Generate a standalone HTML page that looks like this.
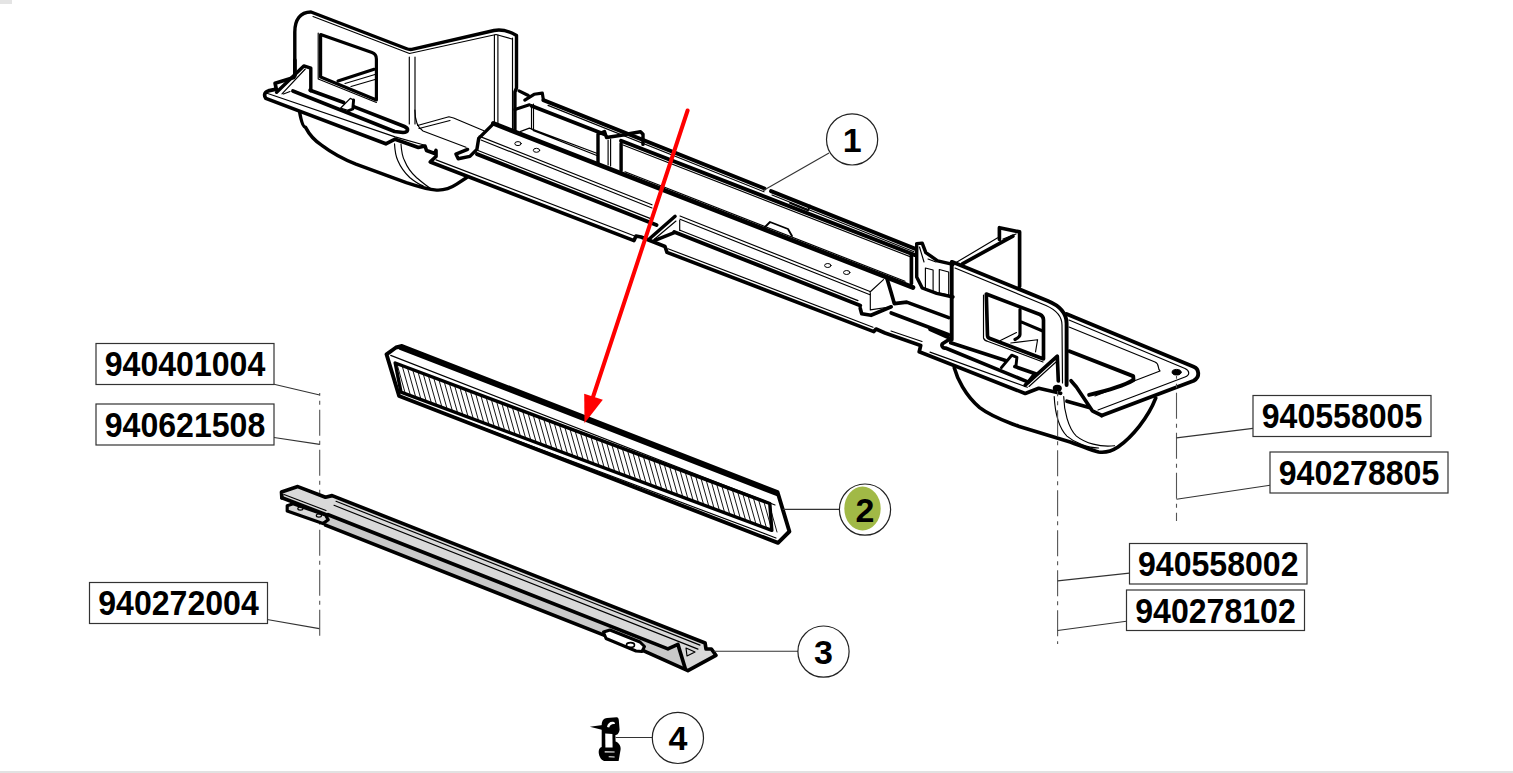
<!DOCTYPE html>
<html><head><meta charset="utf-8">
<style>
html,body{margin:0;padding:0;background:#fff;}
body{width:1513px;height:773px;overflow:hidden;position:relative;}
svg{position:absolute;left:0;top:0;}
.lb{font-family:"Liberation Sans",sans-serif;font-weight:bold;font-size:34.5px;fill:#000;}
.cn{font-family:"Liberation Sans",sans-serif;font-weight:bold;font-size:34px;fill:#000;}
</style></head><body>
<svg width="1513" height="773" viewBox="0 0 1513 773">
<rect x="0" y="771" width="1513" height="2" fill="#e2e2e2"/>
<rect x="0" y="0" width="12" height="4" fill="#e4e4e4"/>
<g fill="none" stroke="#000" stroke-linecap="round" stroke-linejoin="round">
<path d="M294.8,76 L294.8,32 C294.8,20 300,12 311,12 L406,48.5 C408.5,49.5 410.5,49.8 413,49.2 L494,30.5 C502,29 509,31 516.5,35.5 L516.5,88 L514.9,92 L514.9,130.4" stroke-width="3.42"/>
<path d="M313,16.5 L409.5,53.5 L496,34.5 L512,39" stroke-width="1.15"/>
<path d="M320.6,77 L320.6,34.5 L372,52.5 C375,53.5 376.4,55.5 376.4,59 L376.4,100 L320.6,77" stroke-width="3.17"/>
<path d="M318.2,33 L318.2,79 L376.4,102.5" stroke-width="1.15"/>
<path d="M338,81 L374.1,69.3" stroke-width="3.17"/>
<path d="M345,83.5 L375,74.5 M351,86.5 L375,79.5" stroke-width="1.15"/>
<path d="M409.3,57 V124 M415,57 V124 M494.4,35 V123.8 M497.9,35 V123.8 M512.5,38 V130" stroke-width="1.15"/>
<path d="M294.9,60 L294.9,75.1 L293.8,77.5 L275.1,83.3 L276.3,89.1 L268.2,90.9 C264,92 264,96 265.8,98.4 L385.8,143.8 L395.1,139.2 L418.4,147.5 L425,146 L426.5,150.5 L434.7,153.5 L436,150.5 L436,156.5 L431.2,161 L430.3,162.0 L634,240.6 L636,236 L641,237 L665,246.5 L667,252.4 L873.8,331.6 L876,329 L885,333 L920.7,345.6 L919.2,351.8 L1025.2,393.5 L1038.7,388.3 L1060.6,393.3" stroke-width="3.66"/>
<path d="M267,93.2 L395.1,136.9 L424,145 M436.0,159.9 L634.0,235.7 M668.0,248.7 L873.0,327.2  M891,331 L922,341.5 M930,352.1 L1027.3,387.3" stroke-width="1.15"/>
<path d="M276.6,92.2 L303.8,65.9 L310.8,68.2 L310.8,90.7" stroke-width="3.42"/>
<path d="M282,93.8 L305.3,69 M283.5,94 L290,91.5" stroke-width="1.15"/>
<path d="M310.1,90.2 L343.7,102.5 M353.6,106.6 L404.5,126.5 C409,128.5 408.5,132.5 403,132.5 L394.6,131.5 L292.9,91" stroke-width="3.66"/>
<path d="M340.5,108.2 L350.3,98.4 L353.6,100 L352.8,109 L348.7,110.7 Z" fill="#fff" stroke-width="1.3"/>
<path d="M353.6,100 L352.8,109 L348.7,110.7" stroke-width="2.93"/>
<path d="M299.6,112 C301,120 303,127 305.4,127.1 C310,136 315,141 322.2,145.6 C332,153 343,159 355.9,164.1 L406.3,182.6 C418,186.5 428,189.5 436.6,190.1 C445,190.5 451,188 456.7,184.2 L466.8,177.5" stroke-width="3.42"/>
<path d="M394.5,143.9 C395,152 396,157 397.9,160.7 C401,168 405,173 409.7,177.5 C414,181 418,184 423.1,185.9 M401,144 C401.5,152 402.5,157 404.6,160.7 C407.5,168 411.5,173 416.4,177.5 C420.5,181 425,185 430,188" stroke-width="1.15"/>
<path d="M417.5,125.5 L448.9,116.8 L453.6,118 L483.9,130.8 M419,128.5 L450,120.5 M414.9,110 C415,122 418,128 423,131 L466,147.3" stroke-width="1.15"/>
<path d="M478.7,138.4 L493.3,123.9 M478.7,138.4 L476.9,149.4 L469.9,156.4 L458.2,158.7 L455.9,154.1 L467.6,149.4" stroke-width="3.42"/>
<path d="M514.9,109.4 L529.4,104.8 M519,90.8 L528.3,95.5 M524.8,100.1 L534.1,94.3 L542.3,93.1 L543.4,100.1" stroke-width="3.17"/>
<path d="M531.5,105 V129 M533.5,104 V130" stroke-width="1.15"/>
<path d="M520.1,131.6 L529.4,128.1 L598.1,153.7 M533,130.4 L598.1,156" stroke-width="1.15"/>
<path d="M543.4,100.1 L764.5,188.5 M771.0,191.1 L916.0,249.1 " stroke-width="3.9"/>
<path d="M548.0,105.4 L764.0,191.8 M772.0,195.0 L914.0,251.8 " stroke-width="1.15"/>
<path d="M531.8,106.0 L604.3,134.2 M621.1,140.7 L915.0,255.1 " stroke-width="3.9"/>
<path d="M623.0,145.0 L912.0,257.4 " stroke-width="1.15"/>
<path d="M598,163.8 L598,134.3 L604.5,131.5 L606.5,137.5 L623,135 L630.4,133.5 L640.5,131.8 L643,134.3 L643,144.4 M621.1,170.5 L621.1,143.5" stroke-width="3.42"/>
<path d="M608.1,140 V165 M610.6,139 V166" stroke-width="1.15"/>
<path d="M790,203 L808,210.5 L810,205.5" stroke-width="1.84"/>
<path d="M765,227 L770,222 L788,229 L792,236" stroke-width="1.84"/>
<path d="M493.3,123.4 L913.0,287.5 " stroke-width="4.64"/>
<path d="M625.0,171.8 L905.0,281.3 " stroke-width="1.15"/>
<path d="M479.0,136.1 L652.0,204.8 M680.0,216.0 L870.0,291.5 M481.0,140.0 L652.0,208.0 M680.0,219.2 L870.0,294.7 " stroke-width="1.15"/>
<path d="M477.0,154.1 L656.5,225.0 M674.3,232.0 L860.2,305.5 " stroke-width="3.9"/>
<path d="M478.0,150.5 L650.0,218.4 M680.0,230.3 L858.0,300.6 " stroke-width="1.15"/>
<path d="M649.5,238.8 L675.1,216.3 M654.9,240.3 L674.3,232.6" stroke-width="3.42"/>
<path d="M654,239.5 L676,221 M679.7,220.2 L679.7,230.3" stroke-width="1.15"/>
<path d="M886.6,277.3 L891.2,292.8 L894.3,303.6 L906.7,302.1 L948.7,317.6" stroke-width="3.66"/>
<path d="M870,292 L883.5,279.6 M870.3,292.8 L870.3,309.9 L891.2,306.8" stroke-width="1.15"/>
<path d="M860.2,308.3 L861.7,313.7 L871,315.3 L891.2,306.8 M891.2,313 L948.7,334.7" stroke-width="3.66"/>
<ellipse cx="518" cy="143.6" rx="3.2" ry="2" stroke-width="1"/>
<ellipse cx="536.5" cy="150.3" rx="3.2" ry="2" stroke-width="1"/>
<ellipse cx="827.8" cy="265.5" rx="3.2" ry="2" stroke-width="1"/>
<ellipse cx="846.7" cy="272.5" rx="3.2" ry="2" stroke-width="1"/>
<path d="M911.4,255.5 L911.4,283.5" stroke-width="3.66"/>
<path d="M916.7,243.6 L922.2,243.1 L925.8,252.6 L937.6,260.8 L953,264.4 M916.7,243.6 L916.7,277.1 L922.2,288 L936.7,293.4 L953,297" stroke-width="3.42"/>
<path d="M919.5,247 L924,262 M928,259 L936,262" stroke-width="1.15"/>
<path d="M925.4,268 L925.4,290 L933.1,292 L933.1,270 Z M939.3,269.5 L939.3,293 L948.7,295 L948.7,272 Z" stroke-width="1.15"/>
<path d="M951.7,262 L951.7,339.7 M952.5,262 L1048,301 C1059,305.5 1066.6,313 1066.6,323.5 L1066.6,385" stroke-width="3.9"/>
<path d="M955,268 L1046,305.5 C1055,309.5 1062,316 1062,325 L1062.5,383" stroke-width="1.15"/>
<path d="M999.4,239.4 L999.4,227.7 L1019.6,231.9 L1019.6,286.5 M962.4,263.8 L1012.9,236.1" stroke-width="3.66"/>
<path d="M954,263.8 L997.7,237.8 M1003,239 L1016,234" stroke-width="1.15"/>
<path d="M986.3,294 L1040,314.5 C1042,315.5 1043.5,317 1043.5,320 L1043.5,359 L990,338.5 C988.5,338 987.5,337 987.5,335.5 Z" stroke-width="3.66"/>
<path d="M983.5,295 L983.5,338 C984,340 986,341 988,341.5 L1043,362 M1000.4,340.5 L1016.5,332.5 M1010.8,343 L1037.6,339.7 L1035.5,352" stroke-width="1.15"/>
<path d="M1021.2,321.9 L1043.3,331.2 M1020,309.5 L1020,334.5 C1020,336.5 1018,338 1015,339.5" stroke-width="3.17"/>
<path d="M930,329.3 L948.6,337.6" stroke-width="3.66"/>
<path d="M950.7,338.5 L942.4,343.8 C941,346 943,348.5 945.5,348 L1028.3,382.1 L1033,376 M950.7,342.8 L1005.5,360.4 M1014.9,366.6 L1035.5,373.8" stroke-width="3.66"/>
<path d="M960,346 L1005,361" stroke-width="1.15"/>
<path d="M1001.4,367.6 L1011.7,355.2 L1016.9,357.3 L1015.9,366.6" stroke-width="2.93"/>
<path d="M1025.2,385.2 L1057.3,356.2 L1058.3,381" stroke-width="3.66"/>
<path d="M1029,386.5 L1056,362" stroke-width="1.15"/>
<path d="M1066.6,314 L1193.7,366.8 C1199,369 1200.5,377 1193.7,380.7 L1101.8,415.5" stroke-width="3.9"/>
<path d="M1069,320 L1185,368.5 C1190,371 1190,375 1185,377 L1098,410 M1069,327 L1155,362 C1160,364 1157,368 1160,371 L1095,396" stroke-width="1.15"/>
<path d="M1069.5,351.2 L1133.2,376.1 L1133.5,380 C1125,385 1110,390 1089.1,394.9" stroke-width="3.9"/>
<ellipse cx="1176.6" cy="372.2" rx="4.5" ry="2.8" fill="#000" stroke-width="1"/>
<ellipse cx="1057.3" cy="388.3" rx="3.8" ry="2.8" fill="#000" stroke-width="1.5"/>
<path d="M1066.9,401.2 L1089.1,407.6 M1071,380.7 L1076.4,387 L1092.3,410.8 L1101.8,415.5" stroke-width="3.66"/>
<path d="M954.3,367.9 C957,378 965,395 979.7,407.6 C992,417 1005,421 1019.3,426.6 L1066.9,440.9 C1080,445 1090,450 1098.6,452 C1106,453 1112,451 1118,447 C1132,437 1148,418 1155.7,398.1" stroke-width="3.66"/>
<path d="M1054.2,396.5 C1055,412 1059,428 1066.9,436.1 C1075,443 1088,448 1098.6,448 M1063.7,396.5 C1064,410 1068,428 1076.4,436.1 C1085,443 1100,447.5 1114.5,445.7" stroke-width="1.15"/>

</g>
<g stroke="#555" stroke-width="1.1" fill="none">
<line x1="319.7" y1="393" x2="319.7" y2="638" stroke-dasharray="26,5,4,5" stroke-dashoffset="23.2"/>
<line x1="1176.5" y1="376" x2="1176.5" y2="521" stroke-dasharray="26,5,4,5" stroke-dashoffset="23.2"/>
<line x1="1057.6" y1="391" x2="1057.6" y2="644" stroke-dasharray="26,5,4,5" stroke-dashoffset="20.7"/>

</g>
<g fill="none" stroke="#000" stroke-linecap="round" stroke-linejoin="round">
<path d="M386.5,354.3 L399.1,396 L778,542.9 L789.4,531.5 L777.5,492 L402,346 L396,347.5 Z" stroke-width="3.9"/>
<path d="M400,348.2 L777,494.5" stroke-width="3.17"/>
<path d="M390.7,355.4 L775,505" stroke-width="1.15"/>
<path d="M395.2,363 L769.8,503.5 L771.8,530.4 L401,392.1 Z" stroke-width="3.42"/>
<path d="M399,396 L776,538" stroke-width="1.15"/>
<path d="M397.0,364.0 L405.0,392.5 M402.2,366.0 L410.2,394.5 M407.5,367.9 L415.5,396.4 M412.7,369.9 L420.7,398.4 M418.0,371.9 L426.0,400.4 M423.2,373.8 L431.2,402.3 M428.4,375.8 L436.4,404.3 M433.7,377.8 L441.7,406.3 M438.9,379.7 L446.9,408.2 M444.2,381.7 L452.2,410.2 M449.4,383.6 L457.4,412.1 M454.6,385.6 L462.6,414.1 M459.9,387.6 L467.9,416.1 M465.1,389.5 L473.1,418.0 M470.4,391.5 L478.4,420.0 M475.6,393.5 L483.6,422.0 M480.8,395.4 L488.8,423.9 M486.1,397.4 L494.1,425.9 M491.3,399.4 L499.3,427.9 M496.5,401.3 L504.5,429.8 M501.8,403.3 L509.8,431.8 M507.0,405.3 L515.0,433.8 M512.3,407.2 L520.3,435.7 M517.5,409.2 L525.5,437.7 M522.7,411.2 L530.7,439.7 M528.0,413.1 L536.0,441.6 M533.2,415.1 L541.2,443.6 M538.5,417.0 L546.5,445.5 M543.7,419.0 L551.7,447.5 M548.9,421.0 L556.9,449.5 M554.2,422.9 L562.2,451.4 M559.4,424.9 L567.4,453.4 M564.7,426.9 L572.7,455.4 M569.9,428.8 L577.9,457.3 M575.1,430.8 L583.1,459.3 M580.4,432.8 L588.4,461.3 M585.6,434.7 L593.6,463.2 M590.9,436.7 L598.9,465.2 M596.1,438.7 L604.1,467.2 M601.3,440.6 L609.3,469.1 M606.6,442.6 L614.6,471.1 M611.8,444.6 L619.8,473.1 M617.1,446.5 L625.1,475.0 M622.3,448.5 L630.3,477.0 M627.5,450.5 L635.5,479.0 M632.8,452.4 L640.8,480.9 M638.0,454.4 L646.0,482.9 M643.3,456.3 L651.3,484.8 M648.5,458.3 L656.5,486.8 M653.7,460.3 L661.7,488.8 M659.0,462.2 L667.0,490.7 M664.2,464.2 L672.2,492.7 M669.5,466.2 L677.5,494.7 M674.7,468.1 L682.7,496.6 M679.9,470.1 L687.9,498.6 M685.2,472.1 L693.2,500.6 M690.4,474.0 L698.4,502.5 M695.6,476.0 L703.6,504.5 M700.9,478.0 L708.9,506.5 M706.1,479.9 L714.1,508.4 M711.4,481.9 L719.4,510.4 M716.6,483.9 L724.6,512.4 M721.8,485.8 L729.8,514.3 M727.1,487.8 L735.1,516.3 M732.3,489.7 L740.3,518.2 M737.6,491.7 L745.6,520.2 M742.8,493.7 L750.8,522.2 M748.0,495.6 L756.0,524.1 M753.3,497.6 L761.3,526.1 M758.5,499.6 L766.5,528.1 M763.8,501.5 L771.8,530.0 M769.0,503.5 L777.0,532.0 " stroke-width="0.92"/>

<path d="M297.8,486.6 L325.5,497.2 L332.1,495.6 L705.1,643 L706,648.9 L711.4,649 L715.9,655.3 L687.9,670.7 L677.9,644.4 L667.9,648.9 L328.2,514.7 L325.5,514.4 L281.9,497.8 L281.5,492 Z" fill="#d9d9d9" stroke="none"/>
<path d="M328.2,514.7 L667.9,648.9 L677.9,644.4 L687.9,670.7 L604.0,635.1 L325.5,525.1 Z" fill="#c9c9c9" stroke="none"/>
<path d="M287.2,505.8 L293.1,503.8 L325.5,515 L328.2,519.7 L322.9,523.6 L287.2,511.1 Z" fill="#d9d9d9" stroke="none"/>
<path d="M281.9,497.8 L281.5,492 L297.8,486.6 L325.5,497.2 L332.1,495.6 L705.1,643 L706,648.9 L711.4,649 L715.9,655.3 L687.9,670.7 L641.0,649.7" stroke-width="3.66"/>
<path d="M281.9,497.8 L325.5,514.4 M325.5,525.1 L604.0,635.1" stroke-width="3.66"/>
<path d="M328.2,514.7 L667.9,648.9 L677.9,644.4 L685.1,668" stroke-width="3.66"/>
<path d="M336.0,501.3 L700.0,645.1 M334.0,505.3 L698.0,649.1 M284,494.5 L326,510.5" stroke-width="1.15"/>
<path d="M287.2,505.8 L293.1,503.8 L325.5,515 L328.2,519.7 L322.9,523.6 L287.2,511.1 Z" stroke-width="3.17"/>
<ellipse cx="300.4" cy="508.6" rx="2.6" ry="1.6" stroke-width="1.2"/>
<ellipse cx="318.9" cy="515.6" rx="2.6" ry="1.6" stroke-width="1.2"/>
<path d="M603.5,632 L610,630 L640,642 L644.5,646.5 L642,651.5 L636,651 L606,638.5 Z" fill="#fff" stroke-width="3.0"/>
<ellipse cx="630.5" cy="645" rx="4" ry="2.4" stroke-width="1.6"/>
<path d="M686,648 L695,652 L687,656 Z" stroke-width="1.15"/>

</g>
<path d="M601.7,747 L601.7,724.5 C602,720 604,718.5 607,718 L616.6,717.3 C618,717.5 618.6,718.5 618.8,720 L619.6,729.7 C619.3,732 618,734.5 616.6,734.7 L615.4,735 L615.6,741.6 C619,743 621,746 620.6,749.6 L618.6,761 L604,761 C600.5,760 598.5,755 598.7,751.6 C598.8,749 600,747.5 601.7,747 Z" fill="#000"/>
<path d="M605.2,733.5 L612.4,734 L612.6,747.6 L605.4,747.6 Z" fill="#fff"/>
<path d="M589.8,726.8 L602.7,725 L602.7,729.9 Z" fill="#000"/>
<path d="M607,727 C607.5,723.5 610,721.5 613,721.8 C614.5,722 615.2,723 614.8,724 C612,723.5 610,725 609.2,727.5 Z" fill="#fff"/>
<path d="M604.7,751.3 L614.6,751.6 L614.6,752.6 L604.7,752.4 Z M608.7,756.3 L614.6,756.6 L614.6,757.4 L608.7,757.2 Z" fill="#fff"/>

<g stroke="#333" stroke-width="1.1" fill="none">
<line x1="274" y1="384.3" x2="319.7" y2="395"/>
<line x1="274" y1="437.5" x2="319.7" y2="444.4"/>
<line x1="267.1" y1="619.5" x2="319.3" y2="628.6"/>
<line x1="1176.5" y1="437.9" x2="1252.9" y2="428.4"/>
<line x1="1176.5" y1="499.3" x2="1270" y2="485.3"/>
<line x1="1057.6" y1="580.9" x2="1129.4" y2="573.1"/>
<line x1="1057.6" y1="630.5" x2="1126.4" y2="621.2"/>
<line x1="829" y1="153" x2="763.3" y2="190.6"/>
<line x1="782.7" y1="509.4" x2="839.2" y2="509.4"/>
<line x1="713.9" y1="651.3" x2="798" y2="651.3"/>
<line x1="615.6" y1="737.5" x2="652.1" y2="737.5"/>

</g>
<rect x="96" y="343.5" width="178" height="41" fill="#fff" stroke="#333" stroke-width="1.2"/>
<text x="185.0" y="376.1" text-anchor="middle" class="lb" textLength="160.5" lengthAdjust="spacingAndGlyphs">940401004</text>
<rect x="96" y="404" width="178" height="41" fill="#fff" stroke="#333" stroke-width="1.2"/>
<text x="185.0" y="436.6" text-anchor="middle" class="lb" textLength="160.5" lengthAdjust="spacingAndGlyphs">940621508</text>
<rect x="89.5" y="582.5" width="178" height="41" fill="#fff" stroke="#333" stroke-width="1.2"/>
<text x="178.5" y="615.1" text-anchor="middle" class="lb" textLength="160.5" lengthAdjust="spacingAndGlyphs">940272004</text>
<rect x="1253" y="395.5" width="178" height="41" fill="#fff" stroke="#333" stroke-width="1.2"/>
<text x="1342.0" y="428.1" text-anchor="middle" class="lb" textLength="160.5" lengthAdjust="spacingAndGlyphs">940558005</text>
<rect x="1270" y="452" width="178" height="41" fill="#fff" stroke="#333" stroke-width="1.2"/>
<text x="1359.0" y="484.6" text-anchor="middle" class="lb" textLength="160.5" lengthAdjust="spacingAndGlyphs">940278805</text>
<rect x="1129.5" y="543.5" width="177.5" height="40.5" fill="#fff" stroke="#333" stroke-width="1.2"/>
<text x="1218.25" y="576.1" text-anchor="middle" class="lb" textLength="160.5" lengthAdjust="spacingAndGlyphs">940558002</text>
<rect x="1126.5" y="590" width="178" height="40.5" fill="#fff" stroke="#333" stroke-width="1.2"/>
<text x="1215.5" y="622.6" text-anchor="middle" class="lb" textLength="160.5" lengthAdjust="spacingAndGlyphs">940278102</text>

<ellipse cx="862.5" cy="508.5" rx="18.2" ry="22" fill="#a1b946" stroke="none"/>
<circle cx="852.1" cy="139.4" r="25.6" fill="none" stroke="#222" stroke-width="1.2"/>
<text x="852.1" y="151.6" text-anchor="middle" class="cn">1</text>
<circle cx="865" cy="509.6" r="25.6" fill="none" stroke="#222" stroke-width="1.2"/>
<text x="865" y="521.8000000000001" text-anchor="middle" class="cn">2</text>
<circle cx="823.5" cy="651.6" r="25.6" fill="none" stroke="#222" stroke-width="1.2"/>
<text x="823.5" y="663.8000000000001" text-anchor="middle" class="cn">3</text>
<circle cx="677.9" cy="737.9" r="25.6" fill="none" stroke="#222" stroke-width="1.2"/>
<text x="677.9" y="750.1" text-anchor="middle" class="cn">4</text>

<line x1="687.6" y1="110.5" x2="593" y2="397" stroke="#ff0000" stroke-width="4" stroke-linecap="round"/>
<polygon points="584.5,423.3 584.2,393.7 602.8,399.7" fill="#ff0000"/>

</svg>
</body></html>
